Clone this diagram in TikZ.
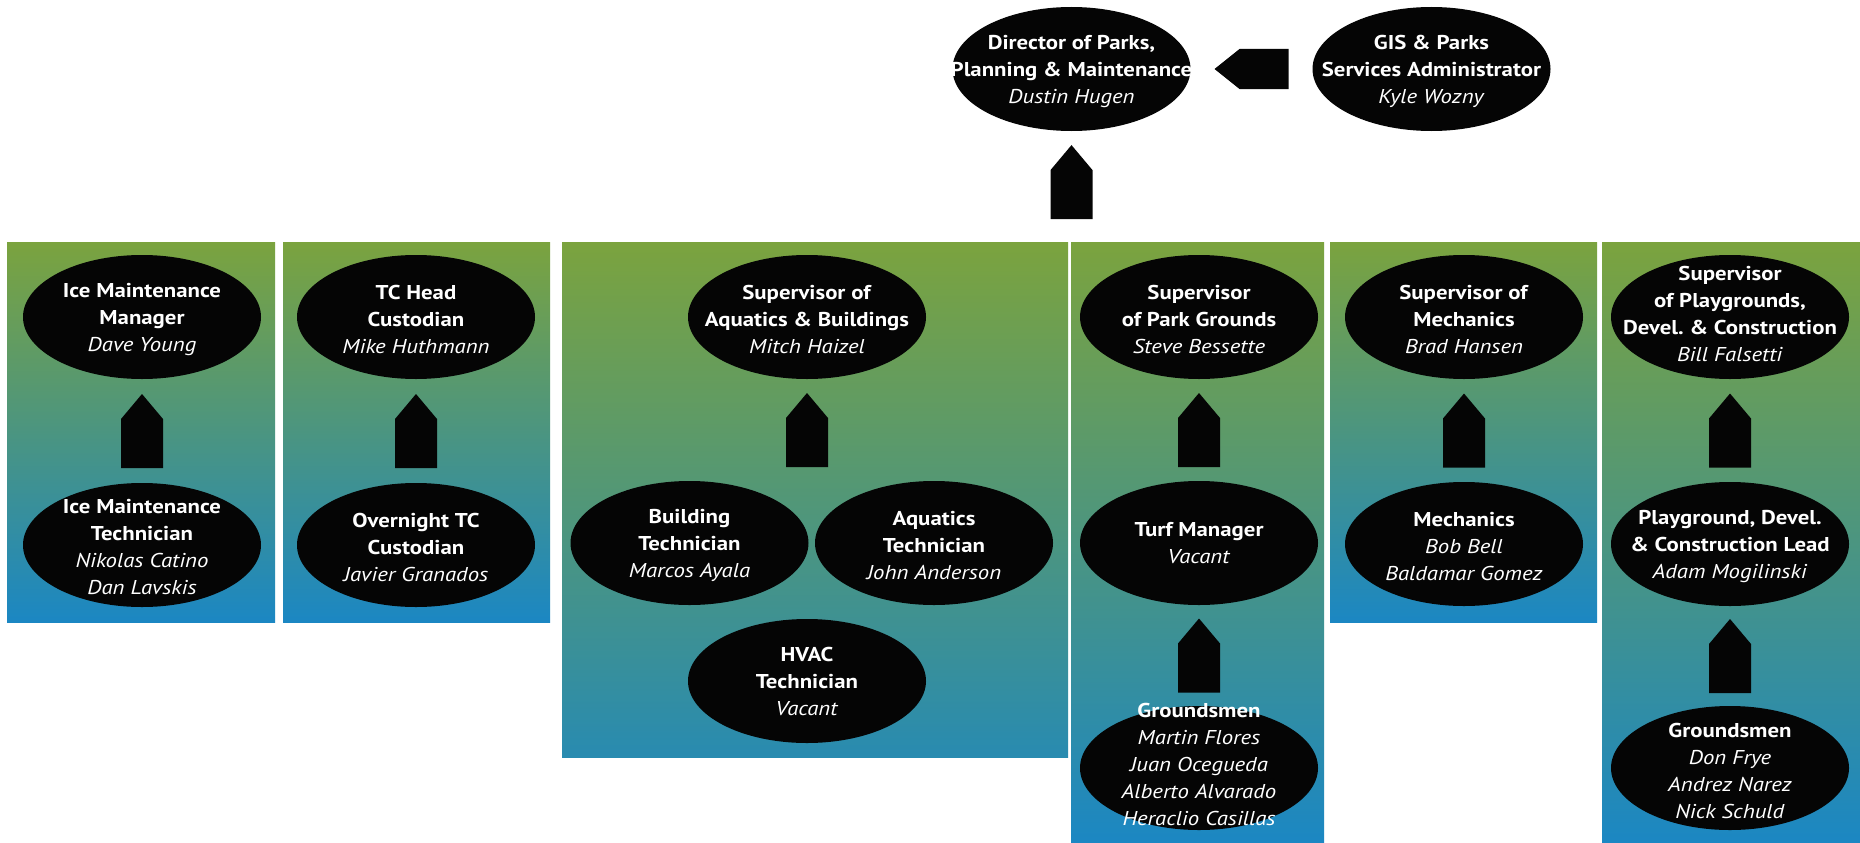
\documentclass[tikz,border=0pt]{standalone}
\usepackage{fontspec}
\setmainfont{PT Sans}[FakeStretch=1.14]
\usetikzlibrary{shapes.geometric,calc}
\frenchspacing
\definecolor{pgreen}{HTML}{7BA33E}
\definecolor{pblue}{HTML}{1B87C3}
\definecolor{ink}{HTML}{050505}
\newcommand\ttl[1]{\textbf{#1}}
\newcommand\nm[1]{\textit{#1}}
\newcommand\who[4][0]{\node[pe] (#2) at (#3) {};
  \node[lbl, yshift=#1pt] (#2t) at (#2.center) {#4};}
\newcommand\hup[2]{\fill[conn] let \p1=(#1), \p3=($(#1)!0.5!(#2)$) in
  (\x1,\y3+37pt) -- (\x1+21pt,\y3+12pt) -- (\x1+21pt,\y3-37pt) --
  (\x1-21pt,\y3-37pt) -- (\x1-21pt,\y3+12pt) -- cycle;}
\newcommand\hleft[2]{\fill[conn] let \p3=($(#1)!0.5!(#2)$) in
  (\x3-37pt,\y3) -- (\x3-12pt,\y3+20pt) -- (\x3+37pt,\y3+20pt) --
  (\x3+37pt,\y3-20pt) -- (\x3-12pt,\y3-20pt) -- cycle;}
\tikzset{
  pe/.style={ellipse, fill=ink, minimum width=238pt, minimum height=124pt, inner sep=0pt},
  lbl/.style={text=white, align=center, inner sep=0pt, yshift=-2.5pt, font=\fontsize{20}{27}\selectfont},
  conn/.style={fill=ink},
  panel/.style={top color=pgreen, bottom color=pblue}
}
\begin{document}
\begin{tikzpicture}[x=1pt,y=-1pt]
\useasboundingbox (0,0) rectangle (1860,843);
\fill[white] (0,0) rectangle (1860,843);
% panels
\shade[panel] (7,242) rectangle (275,622);
\shade[panel] (283,242) rectangle (550,622);
\shade[top color=pgreen, bottom color=pblue!86!pgreen] (562,242) rectangle (1068,757);
\shade[panel] (1071,242) rectangle (1324,843);
\shade[panel] (1330,242) rectangle (1597,622);
\shade[panel] (1602,242) rectangle (1860,843);
% top
\who{dir}{1071.5,69}{\ttl{Director of Parks,}\\\ttl{Planning \& Maintenance}\\\nm{Dustin Hugen}}
\who{gis}{1431.5,69}{\ttl{GIS \& Parks}\\\ttl{Services Administrator}\\\nm{Kyle Wozny}}
\coordinate (dirfoot) at (1071.5,233);
% panel 1
\who{imm}{142,317}{\ttl{Ice Maintenance}\\\ttl{Manager}\\\nm{Dave Young}}
\who{imt}{142,545}{\ttl{Ice Maintenance}\\\ttl{Technician}\\\nm{Nikolas Catino}\\\nm{Dan Lavskis}}
% panel 2
\who{tch}{416,317}{\ttl{TC Head}\\\ttl{Custodian}\\\nm{Mike Huthmann}}
\who{otc}{416,545}{\ttl{Overnight TC}\\\ttl{Custodian}\\\nm{Javier Granados}}
% panel 3
\who{sab}{807,317}{\ttl{Supervisor of}\\\ttl{Aquatics \& Buildings}\\\nm{Mitch Haizel}}
\who{bt}{689.5,543}{\ttl{Building}\\\ttl{Technician}\\\nm{Marcos Ayala}}
\who{at}{934,543}{\ttl{Aquatics}\\\ttl{Technician}\\\nm{John Anderson}}
\who[2]{hv}{807,681}{\ttl{HVAC}\\\ttl{Technician}\\\nm{Vacant}}
\coordinate (abmid) at ($(bt.north)!0.5!(at.north)$);
% panel 4
\who{spg}{1199,317}{\ttl{Supervisor}\\\ttl{of Park Grounds}\\\nm{Steve Bessette}}
\who[2]{tm}{1199,543}{\ttl{Turf Manager}\\\nm{Vacant}}
\who[6]{gma}{1199,768}{\ttl{Groundsmen}\\\nm{Martin Flores}\\\nm{Juan Ocegueda}\\\nm{Alberto Alvarado}\\\nm{Heraclio Casillas}}
% panel 5
\who{sm}{1464,317}{\ttl{Supervisor of}\\\ttl{Mechanics}\\\nm{Brad Hansen}}
\who{mech}{1464,544}{\ttl{Mechanics}\\\nm{Bob Bell}\\\nm{Baldamar Gomez}}
% panel 6
\who[6]{spd}{1730,317}{\ttl{Supervisor}\\\ttl{of Playgrounds,}\\\ttl{Devel. \& Construction}\\\nm{Bill Falsetti}}
\who{pdl}{1730,544}{\ttl{Playground, Devel.}\\\ttl{\& Construction Lead}\\\nm{Adam Mogilinski}}
\who{gmb}{1730,768}{\ttl{Groundsmen}\\\nm{Don Frye}\\\nm{Andrez Narez}\\\nm{Nick Schuld}}
% connectors
\hleft{dir.east}{gis.west}
\hup{dir.south}{dirfoot}
\hup{imm.south}{imt.north}
\hup{tch.south}{otc.north}
\hup{sab.south}{abmid}
\hup{spg.south}{tm.north}
\hup{tm.south}{gma.north}
\hup{sm.south}{mech.north}
\hup{spd.south}{pdl.north}
\hup{pdl.south}{gmb.north}
\end{tikzpicture}
\end{document}
